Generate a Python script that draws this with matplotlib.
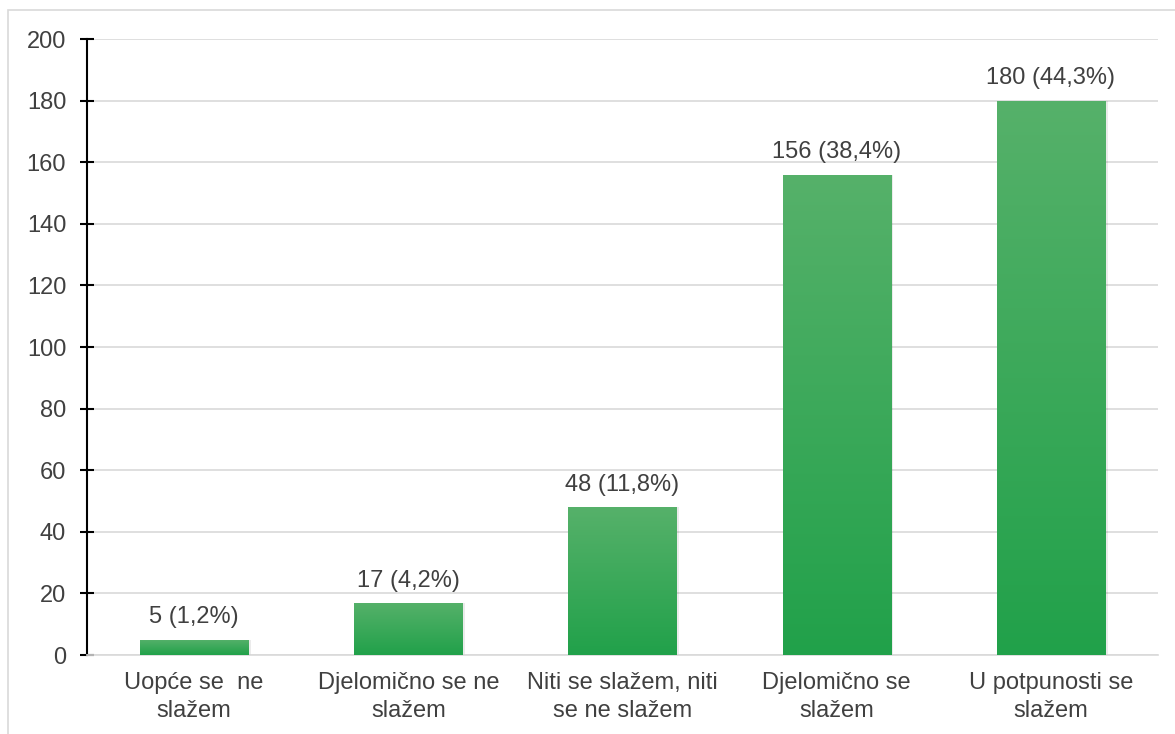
import matplotlib
matplotlib.use("Agg")
import matplotlib.pyplot as plt
import numpy as np
from matplotlib.colors import LinearSegmentedColormap
from matplotlib.patches import Rectangle

categories = [
    "Uopće se  ne\nslažem",
    "Djelomično se ne\nslažem",
    "Niti se slažem, niti\nse ne slažem",
    "Djelomično se\nslažem",
    "U potpunosti se\nslažem",
]
counts = [5, 17, 48, 156, 180]
percents = ["1,2%", "4,2%", "11,8%", "38,4%", "44,3%"]
yticks = [0, 20, 40, 60, 80, 100, 120, 140, 160, 180, 200]

plt.rcParams["font.family"] = ["Liberation Sans", "DejaVu Sans"]
text_color = "#404040"
grid_color = "#d9d9d9"
fs = 17

fig = plt.figure(figsize=(11.75, 7.34), dpi=100)
fig.patch.set_facecolor("white")

# light frame around the chart area
fig.patches.append(Rectangle((8 / 1175, -0.05), 1.2, 1 - 10 / 734 + 0.05,
                             transform=fig.transFigure, fill=False,
                             edgecolor=grid_color, linewidth=1.2))

ax = fig.add_axes([87 / 1175, 1 - 655 / 734, (1158 - 87) / 1175, (655 - 39) / 734])
x = np.arange(len(categories))
width = 0.505

cmap = LinearSegmentedColormap.from_list("grn", ["#21a14a", "#56b16a"])
grad = np.linspace(0, 1, 256).reshape(-1, 1)

bars = ax.bar(x, counts, width=width, color="none", edgecolor="none", zorder=3)
for b in bars:
    x0, y0 = b.get_x(), b.get_y()
    w, h = b.get_width(), b.get_height()
    # soft shadow on the right
    ax.add_patch(Rectangle((x0 + 0.012, y0), w, h, facecolor="#000000",
                           alpha=0.08, edgecolor="none", zorder=2.5))
    im = ax.imshow(grad, cmap=cmap, origin="lower", aspect="auto",
                   extent=(x0, x0 + w, y0, y0 + h), zorder=3)
    im.set_clip_path(b)

for xi, c, p in zip(x, counts, percents):
    ax.annotate(f"{c} ({p})", (xi, c), xytext=(0, 8), textcoords="offset points",
                ha="center", va="bottom", fontsize=fs, color=text_color, zorder=4)

ax.set_xlim(-0.5, len(categories) - 0.5)
ax.set_ylim(0, 200)
ax.set_yticks(yticks)
ax.set_xticks(x)
ax.set_xticklabels(categories, fontsize=fs, color=text_color, linespacing=1.38)
ax.tick_params(axis="x", length=0, pad=12)
ax.tick_params(axis="y", direction="inout", length=10, width=1.5,
               labelsize=fs, labelcolor=text_color, pad=10)

ax.yaxis.grid(True, color=grid_color, linewidth=1.2, zorder=0)
ax.set_axisbelow(True)
for s in ["top", "right"]:
    ax.spines[s].set_visible(False)
ax.spines["bottom"].set_color(grid_color)
ax.spines["bottom"].set_linewidth(1.2)
ax.spines["left"].set_color("black")
ax.spines["left"].set_linewidth(1.5)

fig.savefig("out.png", dpi=100, facecolor="white")
